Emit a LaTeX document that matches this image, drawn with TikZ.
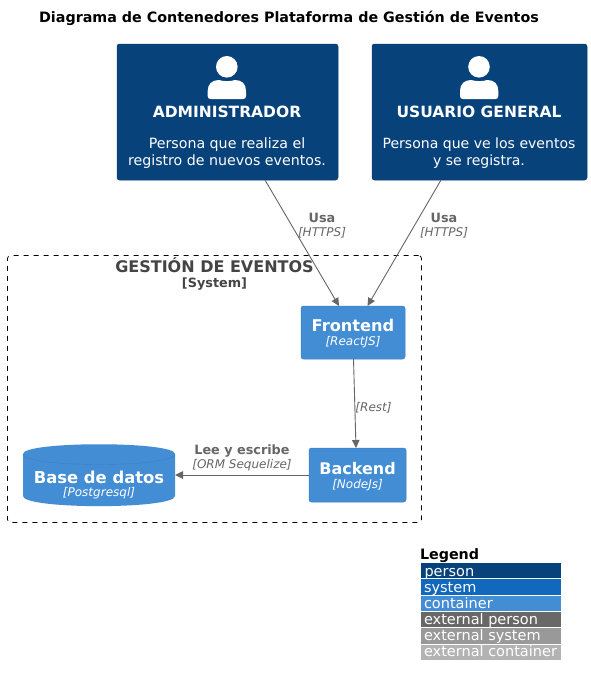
\documentclass[tikz,border=0pt]{standalone}
\usepackage{fontspec}
\setmainfont{DejaVu Sans}
\usetikzlibrary{calc,arrows.meta}
\definecolor{cperson}{HTML}{08427B}
\definecolor{cpersonb}{HTML}{073B6F}
\definecolor{csystem}{HTML}{1168BD}
\definecolor{ccont}{HTML}{438DD5}
\definecolor{ccontb}{HTML}{3C7FC0}
\definecolor{cextp}{HTML}{686868}
\definecolor{cexts}{HTML}{999999}
\definecolor{cextc}{HTML}{B3B3B3}
\definecolor{cline}{HTML}{666666}
\definecolor{cbound}{HTML}{444444}
\newcommand{\fs}[2]{\fontsize{#1}{#2}\selectfont}
\tikzset{
  x=1pt,y=-1pt,
  every node/.style={inner sep=0pt,outer sep=0pt},
  personbox/.style={rectangle,rounded corners=2.5pt,fill=cperson,draw=cpersonb,line width=.5pt,text=white,minimum width=#1,minimum height=136pt},
  contbox/.style={rectangle,rounded corners=2.5pt,fill=ccont,draw=ccontb,line width=.5pt,minimum width=#1},
  nametext/.style={text=white,font=\fs{16.2}{19}\bfseries},
  persname/.style={text=white,font=\fs{15.5}{19}\bfseries},
  techtext/.style={text=white,font=\fs{12}{14}\itshape},
  desctext/.style={text=white,font=\fs{14.2}{17},align=center},
  rellabel/.style={text=cline,font=\fs{12.8}{14}\bfseries},
  reltech/.style={text=cline,font=\fs{12}{14}\itshape},
  rel/.style={draw=cline,line width=.9pt,-{Triangle[length=8pt,width=7.5pt]}},
  legrow/.style={rectangle,anchor=north west,minimum width=140pt,minimum height=15.2pt,fill=#1},
  legtext/.style={anchor=base west,text=white,font=\fs{14.5}{17}},
}
\begin{document}
\begin{tikzpicture}
\useasboundingbox (0,0) rectangle (591,686);
\fill[white] (0,0) rectangle (591,686);
\node[font=\fs{14.3}{17}\bfseries,text=black] (title) at (289,18.5) {Diagrama de Contenedores Plataforma de Gestión de Eventos};

% boundary
\node[draw=black,dash pattern=on 5pt off 5pt,line width=.8pt,rounded corners=3pt,minimum width=414pt,minimum height=267pt] (bound) at (214.5,389) {};
\node[text=cbound,font=\fs{16}{19}\bfseries] (boundname) at (214.5,265.5) {GESTIÓN DE EVENTOS};
\node[text=cbound,font=\fs{12.8}{14}\bfseries] (boundkind) at (214.5,284.5) {[System]};

% persons
\node[personbox=221pt] (admin) at (227.5,112) {};
\fill[white] (226.8,66.8) circle (10.8);
\fill[white] (210.7,99) .. controls (208.7,99) and (207.7,98) .. (207.7,96) -- (207.7,91) .. controls (207.7,84) and (212,80) .. (219,80) .. controls (223,81.5) and (231,81.5) .. (235,80) .. controls (242,80) and (246,84) .. (246,91) -- (246,96) .. controls (246,98) and (245,99) .. (243,99) -- cycle;
\node[persname] (adminname) at (227,112) {ADMINISTRADOR};
\node[desctext] (admindesc) at (227,153.5) {\strut Persona que realiza el\\registro de nuevos eventos.\strut};

\node[personbox=215pt] (user) at (479.5,112) {};
\fill[white] (479,66.8) circle (10.8);
\fill[white] (463,99) .. controls (461,99) and (460,98) .. (460,96) -- (460,91) .. controls (460,84) and (464.3,80) .. (471.3,80) .. controls (475.3,81.5) and (483.3,81.5) .. (487.3,80) .. controls (494.3,80) and (498.3,84) .. (498.3,91) -- (498.3,96) .. controls (498.3,98) and (497.3,99) .. (495.3,99) -- cycle;
\node[persname] (username) at (479,112) {USUARIO GENERAL};
\node[desctext,font=\fs{14.05}{17}] (userdesc) at (479,153.5) {\strut Persona que ve los eventos\\y se registra.\strut};

% containers
\node[contbox=104pt,minimum height=53pt] (front) at (353,332.5) {};
\node[nametext] (frontname) at (353,325.5) {Frontend};
\node[techtext] (fronttech) at (353,342) {[ReactJS]};

\node[contbox=97pt,minimum height=54pt] (back) at (357.5,475) {};
\node[nametext,font=\fs{16}{19}\bfseries] (backname) at (357.5,468.5) {Backend};
\node[techtext] (backtech) at (357.5,485) {[NodeJs]};

% database
\node[minimum width=152pt,minimum height=62pt] (db) at (99,475) {};
\path[fill=ccont] (23,454) .. controls (23,441) and (175,441) .. (175,454) -- (175,496) .. controls (175,509.5) and (23,509.5) .. (23,496) -- cycle;
\draw[ccontb,line width=.4pt] (23,454) .. controls (23,468) and (175,468) .. (175,454);
\node[nametext,font=\fs{16.4}{19}\bfseries] (dbname) at (99,477.5) {Base de datos};
\node[techtext] (dbtech) at (99,493.5) {[Postgresql]};

% connectors
\draw[rel] ($(admin.south)+(37.5,0)$) -- ($(front.north)+(-14,0)$);
\draw[rel] ($(user.south)+(-38.5,0)$) -- ($(front.north)+(14.5,0)$);
\draw[rel] ($(front.south)+(0.5,0)$) -- ($(back.north)+(-1.5,0)$);
\draw[rel] (back.west) -- (db.east);

\node[rellabel] (l1) at (322,218) {Usa};
\node[reltech] (l1t) at (322,232.5) {[HTTPS]};
\node[rellabel] (l2) at (444,218) {Usa};
\node[reltech] (l2t) at (444,232.5) {[HTTPS]};
\node[reltech] (l3t) at (373.5,407.5) {[Rest]};
\node[rellabel] (l4) at (242,451.5) {Lee y escribe};
\node[reltech] (l4t) at (242,465.5) {[ORM Sequelize]};

% legend
\node[anchor=base west,font=\fs{14.3}{17}\bfseries,text=black] (legtitle) at (420,559) {Legend};
\node[legrow=cperson] (lg1) at (421,563) {};
\node[legrow=csystem] (lg2) at (421,579.4) {};
\node[legrow=ccont] (lg3) at (421,595.7) {};
\node[legrow=cextp] (lg4) at (421,612) {};
\node[legrow=cexts] (lg5) at (421,628.3) {};
\node[legrow=cextc] (lg6) at (421,644.6) {};
\node[legtext] at (424.5,576) {person};
\node[legtext] at (424,592) {system};
\node[legtext] at (424,608.3) {container};
\node[legtext] at (424,624.3) {external person};
\node[legtext] at (424,640.7) {external system};
\node[legtext] at (424,656.7) {external container};
\end{tikzpicture}
\end{document}
